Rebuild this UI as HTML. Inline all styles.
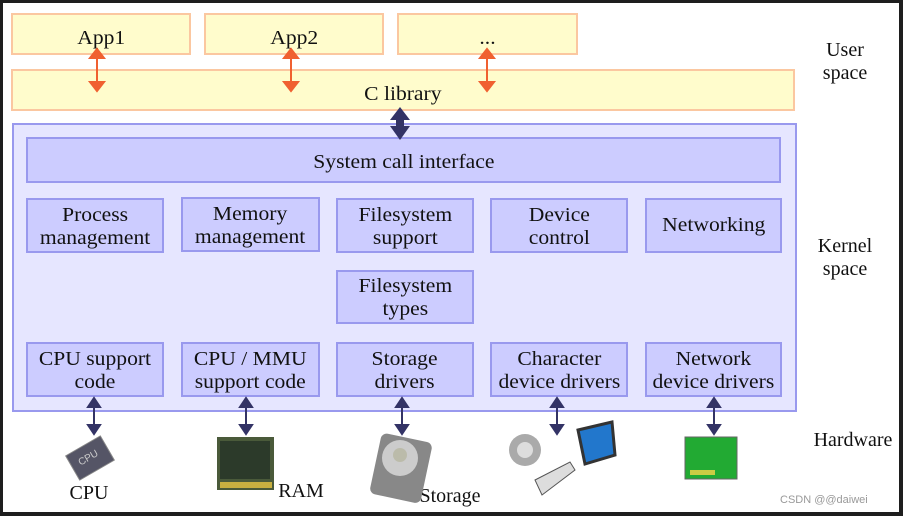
<!DOCTYPE html>
<html><head><style>
body{margin:0;width:903px;height:516px;background:#1e1e1e;position:relative;overflow:hidden;font-family:"Liberation Serif",serif;color:#111}
.pg{position:absolute;left:3px;top:3px;width:896px;height:509px;background:#fff}
.b{position:absolute;box-sizing:border-box;display:flex;align-items:center;justify-content:center;text-align:center;font-size:20px;line-height:23px;white-space:nowrap}
.b span{display:inline-block;transform:scaleX(1.08)}
.y{background:#fffccc;border:2px solid #fbc7a0}
.k{background:#ccccff;border:2px solid #9999ee}
.t{position:absolute;font-size:20px;line-height:23px;text-align:center}
</style></head><body>
<div class="pg"></div>
<div class="b y" style="left:11px;top:13px;width:180px;height:42px;align-items:flex-start;padding-top:12px"><span>App1</span></div>
<div class="b y" style="left:204px;top:13px;width:180px;height:42px;align-items:flex-start;padding-top:12px"><span>App2</span></div>
<div class="b y" style="left:397px;top:13px;width:181px;height:42px;align-items:flex-start;padding-top:12px"><span>...</span></div>
<div class="b y" style="left:11px;top:69px;width:784px;height:42px;align-items:flex-start;padding-top:12px"><span>C library</span></div>
<div class="b" style="left:12px;top:123px;width:785px;height:289px;background:#e6e6ff;border:2px solid #9999ee"></div>
<div class="b k" style="left:26px;top:137px;width:755px;height:46px;padding-top:4px"><span>System call interface</span></div>
<div class="b k" style="left:26px;top:198px;width:138px;height:55px;padding-top:2px"><span>Process<br>management</span></div>
<div class="b k" style="left:181px;top:197px;width:139px;height:55px;padding-top:2px"><span>Memory<br>management</span></div>
<div class="b k" style="left:336px;top:198px;width:138px;height:55px;padding-top:2px"><span>Filesystem<br>support</span></div>
<div class="b k" style="left:490px;top:198px;width:138px;height:55px;padding-top:2px"><span>Device<br>control</span></div>
<div class="b k" style="left:645px;top:198px;width:137px;height:55px"><span>Networking</span></div>
<div class="b k" style="left:336px;top:270px;width:138px;height:54px;padding-top:2px"><span>Filesystem<br>types</span></div>
<div class="b k" style="left:26px;top:342px;width:138px;height:55px;padding-top:2px"><span>CPU support<br>code</span></div>
<div class="b k" style="left:181px;top:342px;width:139px;height:55px;padding-top:2px"><span>CPU / MMU<br>support code</span></div>
<div class="b k" style="left:336px;top:342px;width:138px;height:55px;padding-top:2px"><span>Storage<br>drivers</span></div>
<div class="b k" style="left:490px;top:342px;width:138px;height:55px;padding-top:2px"><span>Character<br>device drivers</span></div>
<div class="b k" style="left:645px;top:342px;width:137px;height:55px;padding-top:2px"><span>Network<br>device drivers</span></div>
<div class="t" style="left:805px;top:39px;width:80px">User<br>space</div>
<div class="t" style="left:805px;top:235px;width:80px">Kernel<br>space</div>
<div class="t" style="left:800px;top:429px;width:106px">Hardware</div>
<div class="t" style="left:59px;top:482px;width:60px">CPU</div>
<div class="t" style="left:271px;top:480px;width:60px">RAM</div>
<div class="t" style="left:410px;top:485px;width:80px">Storage</div>
<div style="position:absolute;left:780px;top:494px;font:11px 'Liberation Sans',sans-serif;color:#999">CSDN @@daiwei</div>
<svg width="903" height="516" style="position:absolute;left:0;top:0">
<g stroke="#f06030" stroke-width="2" fill="#f06030">
<line x1="97" y1="56" x2="97" y2="84"/><polygon points="90,58 104,58 97,49"/><polygon points="90,82 104,82 97,91"/>
<line x1="291" y1="56" x2="291" y2="84"/><polygon points="284,58 298,58 291,49"/><polygon points="284,82 298,82 291,91"/>
<line x1="487" y1="56" x2="487" y2="84"/><polygon points="480,58 494,58 487,49"/><polygon points="480,82 494,82 487,91"/>
</g>
<g fill="#333366"><rect x="396" y="113" width="8" height="20"/><polygon points="390,120 410,120 400,107"/><polygon points="390,126 410,126 400,140"/></g>
<g stroke="#333366" stroke-width="2" fill="#333366">
<g id="a"><line x1="94" y1="404" x2="94" y2="428"/><polygon points="88,407 100,407 94,398"/><polygon points="88,425 100,425 94,434"/></g>
<use href="#a" x="152"/><use href="#a" x="308"/><use href="#a" x="463"/><use href="#a" x="620"/>
</g>
<g transform="translate(90,458) rotate(-30)"><rect x="-20" y="-14" width="40" height="28" fill="#556" stroke="#888"/><text x="-12" y="2" font-size="10" fill="#ccc" font-family="Liberation Sans">CPU</text></g>
<rect x="217" y="437" width="57" height="53" fill="#4a5a3a"/><rect x="220" y="441" width="50" height="38" fill="#2c3a2a"/><rect x="220" y="482" width="52" height="6" fill="#c8b040"/>
<g><rect x="375" y="437" width="52" height="62" rx="6" fill="#888" transform="rotate(12 400 468)"/><circle cx="400" cy="458" r="18" fill="#ccc"/><circle cx="400" cy="455" r="7" fill="#bba"/></g>
<circle cx="525" cy="450" r="16" fill="#aaa"/><circle cx="525" cy="450" r="8" fill="#ddd"/>
<polygon points="578,430 612,422 615,455 585,464" fill="#2277cc" stroke="#333" stroke-width="3"/>
<polygon points="535,480 570,462 575,470 542,495" fill="#ddd" stroke="#555"/>
<rect x="685" y="437" width="52" height="42" fill="#22aa33" stroke="#666"/><rect x="690" y="470" width="25" height="5" fill="#cc4"/>
</svg>
</body></html>
